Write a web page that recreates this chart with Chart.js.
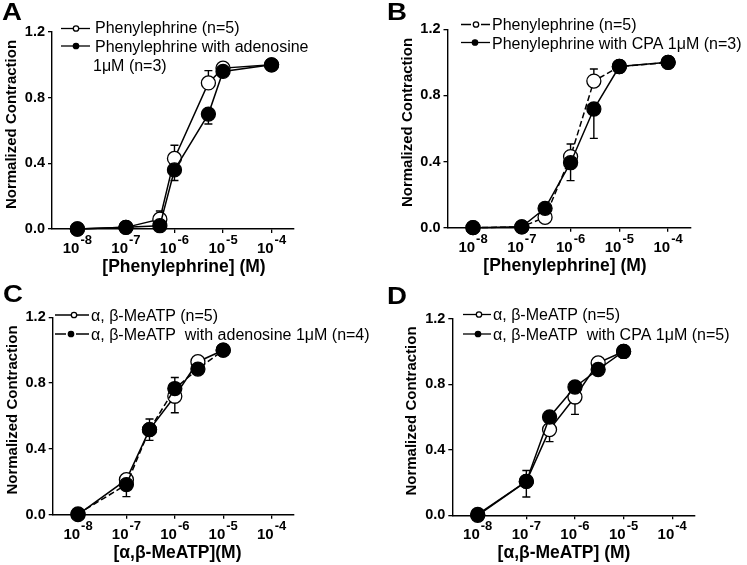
<!DOCTYPE html>
<html>
<head>
<meta charset="utf-8">
<script src="https://cdn.jsdelivr.net/npm/chart.js@4.4.1/dist/chart.umd.min.js"></script>
<style>
body { margin: 0; background: #fff; width: 747px; height: 565px; position: relative; overflow: hidden; }
canvas { position: absolute; }
</style>
</head>
<body>
<canvas id="cA" width="374" height="282" style="left:0;top:0"></canvas>
<canvas id="cB" width="373" height="282" style="left:374px;top:0"></canvas>
<canvas id="cC" width="400" height="283" style="left:0;top:282px"></canvas>
<canvas id="cD" width="373" height="283" style="left:374px;top:282px"></canvas>
<script>
// shared axes
const xTicks = [1e-8, 1e-7, 1e-6, 1e-5, 1e-4];
const xTickExps = ['-8', '-7', '-6', '-5', '-4'];
const yTicks = [0, 0.4, 0.8, 1.2];

// A: phenylephrine +/- adenosine
const concA = [1e-8, 1e-7, 5e-7, 1e-6, 5e-6, 1e-5, 1e-4];
const pheA = [0.0, 0.01, 0.06, 0.43, 0.89, 0.98, 1.0];
const pheA_errUp = [0, 0, 0.05, 0.08, 0.075, 0, 0];
const adoA = [0.0, 0.01, 0.02, 0.36, 0.70, 0.96, 1.0];
const adoA_errDn = [0, 0, 0, 0.065, 0.06, 0, 0];
const legendA = ['Phenylephrine (n=5)', 'Phenylephrine with adenosine', '1\u03bcM (n=3)'];

// B: phenylephrine +/- CPA
const concB = [1e-8, 1e-7, 3e-7, 1e-6, 3e-6, 1e-5, 1e-4];
const pheB = [0.0, 0.005, 0.063, 0.43, 0.887, 0.975, 1.0];
const pheB_errUp = [0, 0, 0.03, 0.076, 0.073, 0, 0];
const pheB_errDn = [0, 0, 0.03, 0, 0, 0, 0];
const cpaB = [0.0, 0.005, 0.117, 0.393, 0.718, 0.975, 1.0];
const cpaB_errDn = [0, 0, 0, 0.108, 0.178, 0, 0];
const legendB = ['Phenylephrine (n=5)', 'Phenylephrine with CPA 1\u03bcM (n=3)'];

// C: a,b-MeATP +/- adenosine
const concC = [1e-8, 1e-7, 3e-7, 1e-6, 3e-6, 1e-5];
const atpC = [0.0, 0.213, 0.517, 0.72, 0.93, 1.0];
const atpC_errUp = [0, 0.03, 0, 0, 0.022, 0];
const atpC_errDn = [0, 0, 0.065, 0.10, 0, 0];
const adoC = [0.005, 0.183, 0.517, 0.767, 0.885, 1.0];
const adoC_errUp = [0, 0, 0.065, 0.067, 0, 0];
const adoC_errDn = [0, 0.073, 0, 0, 0, 0];
const legendC = ['\u03b1, \u03b2-MeATP (n=5)', '\u03b1, \u03b2-MeATP  with adenosine 1\u03bcM (n=4)'];

// D: a,b-MeATP +/- CPA
const concD = [1e-8, 1e-7, 3e-7, 1e-6, 3e-6, 1e-5];
const atpD = [0.0, 0.207, 0.523, 0.722, 0.93, 1.0];
const atpD_errUp = [0, 0.066, 0, 0, 0.02, 0];
const atpD_errDn = [0, 0, 0.073, 0.106, 0, 0];
const cpaD = [0.005, 0.207, 0.6, 0.783, 0.89, 1.0];
const cpaD_errDn = [0, 0.095, 0, 0, 0, 0];
const legendD = ['\u03b1, \u03b2-MeATP (n=5)', '\u03b1, \u03b2-MeATP  with CPA 1\u03bcM (n=5)'];

const FONT = '"Liberation Sans", Arial, sans-serif';
Chart.defaults.font.family = FONT;

function pts(xs, ys) {
  return xs.map((x, i) => ({ x: x, y: ys[i] }));
}

function series(xs, ys, open, up, dn, dash) {
  return {
    data: pts(xs, ys),
    errUp: up, errDn: dn,
    borderColor: '#000',
    borderWidth: 1.5,
    borderDash: dash ? [6, 3] : [],
    tension: 0,
    pointRadius: 7,
    pointHoverRadius: 7,
    pointBorderWidth: 1.3,
    pointBorderColor: '#000',
    pointBackgroundColor: open ? '#fff' : '#000',
    clip: false,
    order: open ? 1 : 0
  };
}

const deco = {
  id: 'deco',
  beforeDatasetsDraw(chart) {
    const ctx = chart.ctx, ys = chart.scales.y;
    ctx.save();
    ctx.strokeStyle = '#000';
    ctx.lineWidth = 1.4;
    chart.data.datasets.forEach((ds, di) => {
      const meta = chart.getDatasetMeta(di);
      meta.data.forEach((pt, i) => {
        const v = ds.data[i].y;
        [[ds.errUp, 1], [ds.errDn, -1]].forEach(([arr, s]) => {
          const e = arr ? arr[i] : 0;
          if (!e) return;
          const y2 = ys.getPixelForValue(v + s * e);
          ctx.beginPath();
          ctx.moveTo(pt.x, pt.y);
          ctx.lineTo(pt.x, y2);
          ctx.moveTo(pt.x - 4, y2);
          ctx.lineTo(pt.x + 4, y2);
          ctx.stroke();
        });
      });
    });
    ctx.restore();
  },
  afterDraw(chart, args, o) {
    const ctx = chart.ctx, a = chart.chartArea, xs = chart.scales.x;
    ctx.save();
    ctx.fillStyle = '#000';
    ctx.strokeStyle = '#000';
    ctx.textBaseline = 'alphabetic';

    // x tick labels 10^n
    xTicks.forEach((v, i) => {
      const px = xs.getPixelForValue(v);
      ctx.font = 'bold 15px ' + FONT;
      const w1 = ctx.measureText('10').width + 1;
      ctx.font = 'bold 13px ' + FONT;
      const w2 = ctx.measureText(xTickExps[i]).width;
      const x0 = px - (w1 + w2) / 2;
      ctx.textAlign = 'left';
      ctx.font = 'bold 15px ' + FONT;
      ctx.fillText('10', x0, a.bottom + 24);
      ctx.font = 'bold 13px ' + FONT;
      ctx.fillText(xTickExps[i], x0 + w1, a.bottom + 15);
    });

    // x title
    ctx.textAlign = 'center';
    ctx.font = 'bold 17.5px ' + FONT;
    ctx.fillText(o.xTitle, o.xTitleX, a.bottom + 43);

    // y title
    ctx.save();
    ctx.translate(a.left - 40, (a.top + a.bottom) / 2 - 6);
    ctx.rotate(-Math.PI / 2);
    ctx.font = 'bold 15px ' + FONT;
    ctx.textBaseline = 'middle';
    ctx.fillText('Normalized Contraction', 0, 0);
    ctx.restore();

    // panel letter
    ctx.save();
    ctx.translate(o.letterX, o.letterY);
    ctx.scale(1.2, 1);
    ctx.textAlign = 'left';
    ctx.font = 'bold 23px ' + FONT;
    ctx.fillText(o.letter, 0, 0);
    ctx.restore();

    // legend
    ctx.lineWidth = 1.3;
    o.legend.forEach(e => {
      if (e.x1 != null) {
        ctx.beginPath();
        if (e.dash) {
          ctx.moveTo(e.x1, e.y); ctx.lineTo(e.mx - 5, e.y);
          ctx.moveTo(e.mx + 5, e.y); ctx.lineTo(e.x2, e.y);
        } else {
          ctx.moveTo(e.x1, e.y); ctx.lineTo(e.x2, e.y);
        }
        ctx.stroke();
        ctx.beginPath();
        ctx.arc(e.mx, e.y, 2.7, 0, Math.PI * 2);
        ctx.fillStyle = e.open ? '#fff' : '#000';
        ctx.fill();
        ctx.stroke();
        ctx.fillStyle = '#000';
      }
      ctx.textAlign = 'left';
      ctx.font = '16px ' + FONT;
      ctx.fillText(e.text, e.tx, e.ty);
    });
    ctx.restore();
  }
};

function makePanel(id, area, datasets, deco_opts) {
  const cv = document.getElementById(id);
  const W = cv.width, H = cv.height;
  const axisGrid = { display: true, drawOnChartArea: false, drawTicks: true, tickLength: 4, color: '#000', lineWidth: 1.3 };
  const axisBorder = { display: true, color: '#000', width: 1.4 };
  return new Chart(cv, {
    type: 'line',
    data: { datasets: datasets },
    options: {
      responsive: false,
      animation: false,
      devicePixelRatio: 1,
      layout: { padding: { left: 0, top: area.t, right: W - area.r, bottom: 0 } },
      plugins: { legend: { display: false }, tooltip: { enabled: false }, deco: deco_opts },
      scales: {
        x: {
          type: 'logarithmic',
          min: 3e-9,
          max: 2.9e-4,
          offset: false,
          afterBuildTicks: s => { s.ticks = xTicks.map(v => ({ value: v })); },
          afterFit: s => { s.height = H - area.b; },
          ticks: { display: false },
          grid: axisGrid,
          border: axisBorder
        },
        y: {
          type: 'linear',
          min: 0,
          max: 1.2,
          afterBuildTicks: s => { s.ticks = yTicks.map(v => ({ value: v })); },
          afterFit: s => { s.width = area.l; },
          ticks: {
            color: '#000',
            padding: 3,
            font: { family: FONT, weight: 'bold', size: 14.5 },
            callback: v => Number(v).toFixed(1)
          },
          grid: axisGrid,
          border: axisBorder
        }
      }
    },
    plugins: [deco]
  });
}

makePanel('cA', { l: 52, r: 294, t: 32, b: 229 }, [
  series(concA, pheA, true, pheA_errUp, null, false),
  series(concA, adoA, false, null, adoA_errDn, false)
], {
  letter: 'A', letterX: 2, letterY: 20,
  xTitle: '[Phenylephrine] (M)', xTitleX: 184,
  legend: [
    { x1: 61, x2: 90, mx: 76, y: 28.5, open: true, tx: 95, ty: 33, text: legendA[0] },
    { x1: 61, x2: 90, mx: 76, y: 46, open: false, tx: 95, ty: 51.5, text: legendA[1] },
    { tx: 93, ty: 71, text: legendA[2] }
  ]
});

makePanel('cB', { l: 73.5, r: 316.7, t: 29.3, b: 227.7 }, [
  series(concB, pheB, true, pheB_errUp, pheB_errDn, true),
  series(concB, cpaB, false, null, cpaB_errDn, false)
], {
  letter: 'B', letterX: 13, letterY: 20,
  xTitle: '[Phenylephrine] (M)', xTitleX: 191,
  legend: [
    { x1: 87, x2: 116, mx: 102, y: 24.5, open: true, dash: true, tx: 118, ty: 29.5, text: legendB[0] },
    { x1: 87, x2: 116, mx: 101, y: 42.5, open: false, tx: 118, ty: 48.5, text: legendB[1] }
  ]
});

makePanel('cC', { l: 52.7, r: 294, t: 35.3, b: 232.7 }, [
  series(concC, atpC, true, atpC_errUp, atpC_errDn, false),
  series(concC, adoC, false, adoC_errUp, adoC_errDn, true)
], {
  letter: 'C', letterX: 3, letterY: 20,
  xTitle: '[\u03b1,\u03b2-MeATP](M)', xTitleX: 177.5,
  legend: [
    { x1: 55, x2: 89, mx: 74, y: 33, open: true, tx: 91, ty: 38.5, text: legendC[0] },
    { x1: 55, x2: 89, mx: 71, y: 52, open: false, dash: true, tx: 91, ty: 58, text: legendC[1] }
  ]
});

makePanel('cD', { l: 78.3, r: 320.7, t: 36.7, b: 233.3 }, [
  series(concD, atpD, true, atpD_errUp, atpD_errDn, false),
  series(concD, cpaD, false, null, cpaD_errDn, false)
], {
  letter: 'D', letterX: 13, letterY: 21.5,
  xTitle: '[\u03b1,\u03b2-MeATP] (M)', xTitleX: 190,
  legend: [
    { x1: 89, x2: 117, mx: 105, y: 32.5, open: true, tx: 119, ty: 38, text: legendD[0] },
    { x1: 89, x2: 117, mx: 104, y: 52, open: false, tx: 119, ty: 57.5, text: legendD[1] }
  ]
});
</script>
</body>
</html>
